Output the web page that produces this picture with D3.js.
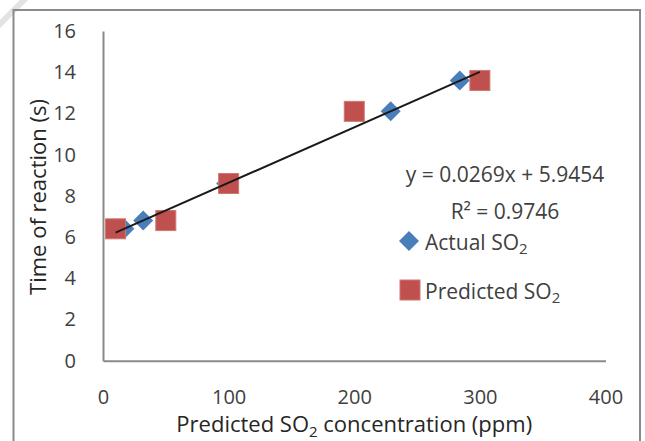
<!DOCTYPE html>
<html>
<head>
<meta charset="utf-8">
<script src="https://cdn.jsdelivr.net/npm/d3@7/dist/d3.min.js"></script>
<style>
  body { margin: 0; background: #fff; }
  svg { display: block; font-family: "Open Sans", "Noto Sans", sans-serif; }
</style>
</head>
<body>
<div id="chart"></div>
<script>
// data
const actualX = [17, 32, 98, 229, 284];
const actualY = [6.4, 6.8, 8.6, 12.1, 13.6];
const predictedX = [10, 50, 100, 200, 300];
const predictedY = [6.4, 6.8, 8.6, 12.1, 13.6];
const trendSlope = 0.0269;
const trendIntercept = 5.9454;
const trendRange = [10, 300];
const xTicks = [0, 100, 200, 300, 400];
const yTicks = [0, 2, 4, 6, 8, 10, 12, 14, 16];

const width = 645, height = 441;
const margin = { top: 31, right: 39.5, bottom: 80.3, left: 103 };

const svg = d3.select("#chart")
    .append("svg")
    .attr("width", width)
    .attr("height", height);

// page corner and chart frame
svg.append("line")
    .attr("x1", -2).attr("y1", 26).attr("x2", 26).attr("y2", -2)
    .attr("stroke", "#e3e3e3")
    .attr("stroke-width", 6);

svg.append("rect")
    .attr("x", 13.5).attr("y", 10)
    .attr("width", 626.5).attr("height", 480)
    .attr("fill", "none")
    .attr("stroke", "#8a8a8a")
    .attr("stroke-width", 2);

let x = d3.scaleLinear()
    .domain([0, 400])
    .range([margin.left, width - margin.right]);

let y = d3.scaleLinear()
    .domain([0, 16])
    .range([height - margin.bottom, margin.top]);

let xAxis = svg.append("g")
    .attr("transform", `translate(0,${y(0)})`)
    .call(d3.axisBottom(x).tickValues(xTicks).tickSize(0).tickPadding(29));

let yAxis = svg.append("g")
    .attr("transform", `translate(${x(0)},0)`)
    .call(d3.axisLeft(y).tickValues(yTicks).tickSize(0).tickPadding(27));

[xAxis, yAxis].forEach(g => {
    g.select(".domain").attr("stroke", "#8a8a8a").attr("stroke-width", 2);
    g.selectAll("text")
        .style("font-family", "'Open Sans', sans-serif")
        .style("font-size", "20px")
        .style("fill", "#404040");
});

// axis titles
let xTitle = svg.append("text")
    .attr("x", (x(0) + x(400)) / 2)
    .attr("y", 432)
    .attr("text-anchor", "middle")
    .style("font-size", "22px")
    .style("fill", "#262626");
xTitle.append("tspan").text("Predicted SO");
xTitle.append("tspan").attr("dy", 5).style("font-size", "15px").text("2");
xTitle.append("tspan").attr("dy", -5).text(" concentration (ppm)");

svg.append("text")
    .attr("transform", `translate(46,197) rotate(-90)`)
    .attr("text-anchor", "middle")
    .style("font-size", "22px")
    .style("fill", "#262626")
    .text("Time of reaction (s)");

// series
const actual = actualX.map((v, i) => ({ x: v, y: actualY[i] }));
const predicted = predictedX.map((v, i) => ({ x: v, y: predictedY[i] }));

const diamond = "M0,-10L10,0L0,10L-10,0Z";

svg.selectAll("path.actual")
    .data(actual)
    .enter().append("path")
    .attr("class", "actual")
    .attr("d", diamond)
    .attr("transform", d => `translate(${x(d.x)},${y(d.y)})`)
    .attr("fill", "#4a7ebb");

svg.selectAll("rect.predicted")
    .data(predicted)
    .enter().append("rect")
    .attr("class", "predicted")
    .attr("x", d => x(d.x) - 10)
    .attr("y", d => y(d.y) - 10)
    .attr("width", 20)
    .attr("height", 20)
    .attr("fill", "#c0504d")
    .attr("stroke", "#cf7673")
    .attr("stroke-width", 1);

// linear trendline
const trend = trendRange.map(v => ({ x: v, y: trendSlope * v + trendIntercept }));
svg.append("path")
    .datum(trend)
    .attr("d", d3.line().x(d => x(d.x)).y(d => y(d.y)))
    .attr("stroke", "#1a1a1a")
    .attr("stroke-width", 2)
    .attr("fill", "none");

// equation and legend
svg.append("text")
    .attr("x", 505).attr("y", 182)
    .attr("text-anchor", "middle")
    .style("font-size", "21px")
    .style("fill", "#404040")
    .text(`y = ${trendSlope}x + ${trendIntercept}`);

svg.append("text")
    .attr("x", 505).attr("y", 219)
    .attr("text-anchor", "middle")
    .style("font-size", "21px")
    .style("fill", "#404040")
    .text("R² = 0.9746");

const legendItems = [
    { label: "Actual SO", cy: 241, shape: "diamond" },
    { label: "Predicted SO", cy: 290, shape: "square" }
];

let legend = svg.append("g");
legendItems.forEach(item => {
    if (item.shape === "diamond") {
        legend.append("path")
            .attr("d", diamond)
            .attr("transform", `translate(409,${item.cy})`)
            .attr("fill", "#4a7ebb");
    } else {
        legend.append("rect")
            .attr("x", 400).attr("y", item.cy - 10)
            .attr("width", 20).attr("height", 20)
            .attr("fill", "#c0504d")
            .attr("stroke", "#cf7673");
    }
    let t = legend.append("text")
        .attr("x", 425).attr("y", item.cy + 9)
        .style("font-size", "21px")
        .style("fill", "#404040");
    t.append("tspan").text(item.label);
    t.append("tspan").attr("dy", 4).style("font-size", "15px").text("2");
});
</script>
</body>
</html>
